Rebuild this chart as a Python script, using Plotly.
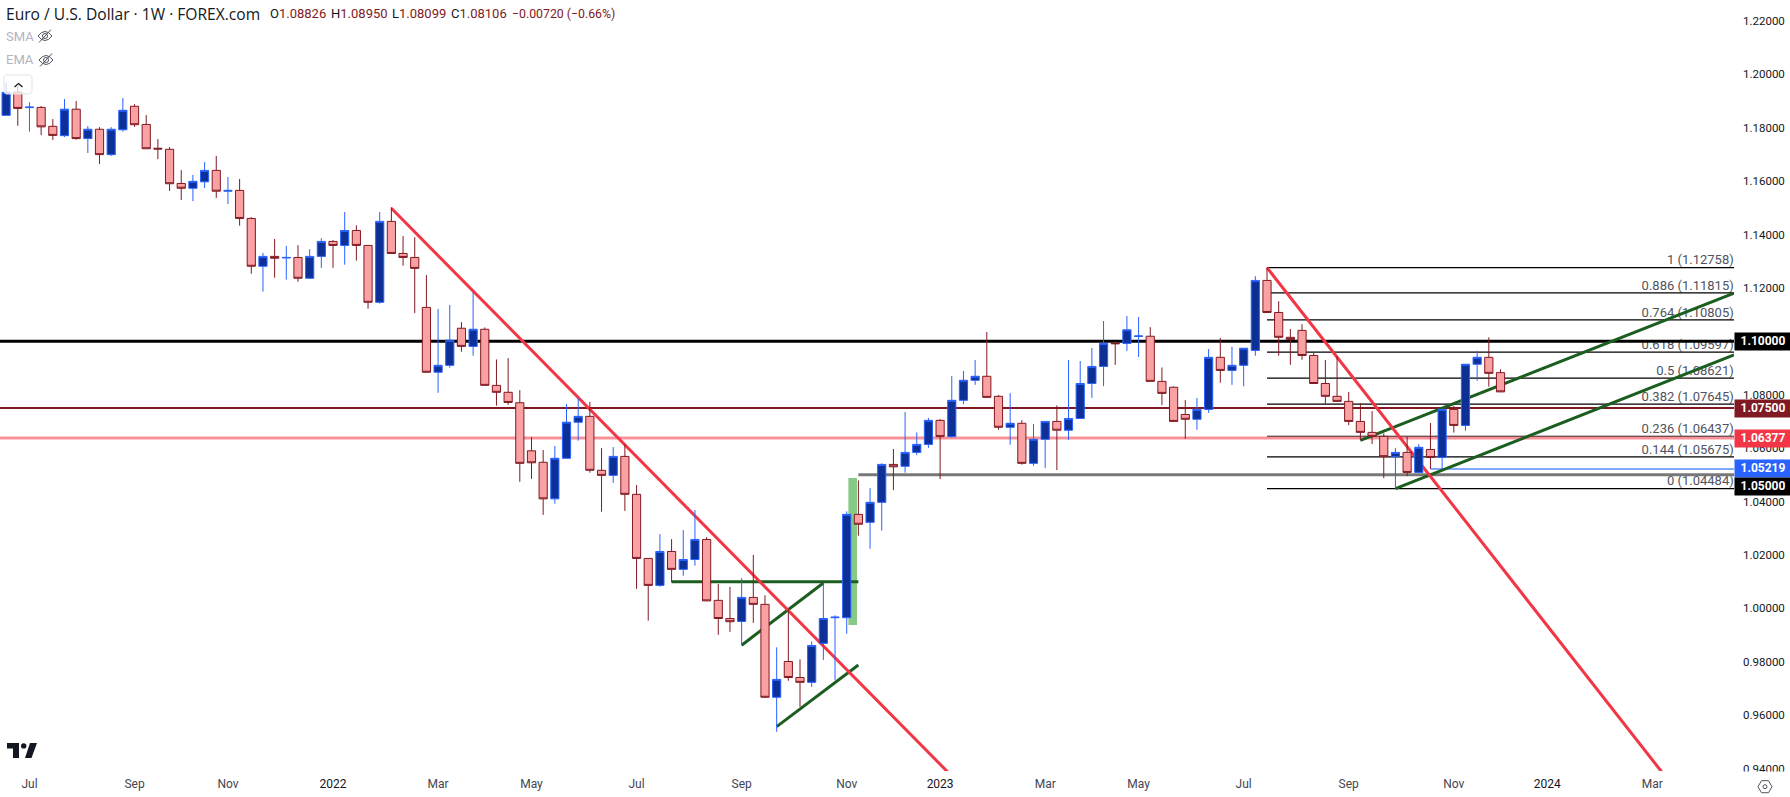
import pandas as pd
import plotly.graph_objects as go

# ---------- data ----------
first_week = "2021-06-21"
axis_start = "2021-06-17 08:00"
axis_end = "2024-04-22"
price_range = [0.9391, 1.2278]

opens = [1.1846,1.1933,1.1875,1.1876,1.1805,1.1770,1.1869,1.1759,1.1794,1.1699,
1.1792,1.1880,1.1812,1.1723,1.1719,1.1591,1.1573,1.1597,1.1640,1.1562,
1.1565,1.1460,1.1281,1.1318,1.1312,1.1314,1.1236,1.1318,1.1374,1.1359,
1.1415,1.1359,1.1146,1.1449,1.1329,1.1314,1.1127,1.0884,1.0910,1.1049,
1.0981,1.1045,1.0835,1.0809,1.0770,1.0590,1.0547,1.0410,1.0562,1.0697,
1.0719,1.0517,1.0498,1.0569,1.0427,1.0187,1.0086,1.0213,1.0146,1.0183,
1.0258,1.0030,0.9962,0.9951,1.0041,1.0015,0.9667,0.9801,0.9741,0.9723,
0.9869,0.9965,0.9965,1.0352,1.0322,1.0397,1.0539,1.0532,1.0584,1.0614,
1.0704,1.0643,1.0779,1.0854,1.0869,1.0794,1.0678,1.0693,1.0543,1.0633,
1.0700,1.0667,1.0711,1.0842,1.0906,1.0993,1.0992,1.1018,1.1019,1.0850,
1.0828,1.0726,1.0708,1.0745,1.0940,1.0891,1.0910,1.0966,1.1228,1.1108,
1.1015,1.1041,1.0947,1.0842,1.0794,1.0775,1.0700,1.0659,1.0644,1.0568,
1.0584,1.0509,1.0595,1.0565,1.0745,1.0685,1.0914,1.0940,1.08826]
closes = [1.1932,1.1872,1.1877,1.1803,1.1771,1.1869,1.1759,1.1794,1.1699,1.1794,
1.1865,1.1811,1.1721,1.1720,1.1590,1.1573,1.1599,1.1640,1.1562,1.1565,
1.1460,1.1281,1.1318,1.1311,1.1314,1.1236,1.1318,1.1374,1.1359,1.1415,
1.1359,1.1146,1.1449,1.1329,1.1314,1.1273,1.0884,1.0910,1.1004,1.0981,
1.1045,1.0835,1.0809,1.0771,1.0543,1.0545,1.0410,1.0562,1.0697,1.0719,
1.0517,1.0498,1.0569,1.0427,1.0187,1.0086,1.0213,1.0146,1.0183,1.0258,
1.0028,0.9962,0.9950,1.0041,1.0015,0.9667,0.9734,0.9741,0.9723,0.9861,
0.9962,0.9967,1.0352,1.0315,1.0397,1.0539,1.0530,1.0584,1.0614,1.0704,
1.0643,1.0779,1.0854,1.0869,1.0790,1.0678,1.0693,1.0543,1.0633,1.0700,
1.0667,1.0711,1.0842,1.0906,1.0992,1.0991,1.1043,1.1020,1.0850,1.0805,
1.0700,1.0708,1.0745,1.0940,1.0891,1.0910,1.0974,1.1228,1.1108,1.1015,
1.1007,1.0947,1.0842,1.0794,1.0775,1.0700,1.0659,1.0644,1.0568,1.0584,
1.0509,1.0603,1.0565,1.0745,1.0685,1.0914,1.0940,1.0880,1.08106]
highs = [1.1971,1.1956,1.1895,1.1881,1.1832,1.1907,1.1900,1.1806,1.1802,1.1802,
1.1911,1.1888,1.1847,1.1757,1.1727,1.1641,1.1623,1.1671,1.1694,1.1615,
1.1608,1.1465,1.1331,1.1383,1.1357,1.1360,1.1345,1.1386,1.1379,1.1484,
1.1434,1.1360,1.1484,1.1502,1.1394,1.1390,1.1248,1.1121,1.1136,1.1072,
1.1186,1.1052,1.0932,1.0937,1.0817,1.0641,1.0593,1.0608,1.0765,1.0788,
1.0773,1.0600,1.0604,1.0615,1.0462,1.0188,1.0278,1.0259,1.0293,1.0368,
1.0267,1.0091,1.0080,1.0113,1.0200,1.0049,0.9854,0.9996,0.9809,0.9876,
1.0094,0.9974,1.0363,1.0479,1.0450,1.0543,1.0597,1.0735,1.0659,1.0713,
1.0709,1.0870,1.0889,1.0930,1.1035,1.0799,1.0806,1.0705,1.0690,1.0701,
1.0760,1.0930,1.0926,1.0975,1.1076,1.1000,1.1095,1.1091,1.1053,1.0902,
1.0831,1.0780,1.0788,1.0971,1.1012,1.0979,1.0975,1.1244,1.12758,1.1150,
1.1046,1.1064,1.0956,1.0930,1.0944,1.0810,1.0768,1.0739,1.0655,1.0600,
1.0643,1.0615,1.0694,1.0746,1.0758,1.0915,1.0964,1.1015,1.0895]
lows = [1.1845,1.1807,1.1785,1.1772,1.1754,1.1765,1.1755,1.1705,1.1664,1.1694,
1.1785,1.1803,1.1720,1.1682,1.1563,1.1529,1.1525,1.1574,1.1537,1.1514,
1.1433,1.1253,1.1186,1.1238,1.1231,1.1223,1.1235,1.1275,1.1275,1.1287,
1.1302,1.1122,1.1141,1.1328,1.1283,1.1106,1.0883,1.0807,1.0901,1.0961,
1.0946,1.0834,1.0759,1.0762,1.0474,1.0485,1.0350,1.0392,1.0561,1.0628,
1.0508,1.0362,1.0470,1.0365,1.0073,0.9954,1.0081,1.0098,1.0122,1.0160,
1.0027,0.9901,0.9912,0.9862,0.9946,0.9666,0.9538,0.9729,0.9631,0.9706,
0.9807,0.9731,0.9905,1.0272,1.0223,1.0291,1.0443,1.0508,1.0574,1.0601,
1.0484,1.0639,1.0765,1.0837,1.0789,1.0669,1.0613,1.0538,1.0534,1.0526,
1.0518,1.0631,1.0710,1.0788,1.0832,1.0912,1.0964,1.0941,1.0849,1.0761,
1.0699,1.0635,1.0669,1.0732,1.0845,1.0837,1.0832,1.0946,1.1107,1.0946,
1.0912,1.0931,1.0841,1.0764,1.0774,1.0686,1.0629,1.0615,1.0488,1.04484,
1.0495,1.0508,1.0522,1.0522,1.0658,1.0665,1.0852,1.0830,1.08099]

date_ticks = ["2021-07-05","2021-09-06","2021-11-01","2022-01-03","2022-03-07","2022-05-02",
              "2022-07-04","2022-09-05","2022-11-07","2023-01-02","2023-03-06","2023-05-01",
              "2023-07-03","2023-09-04","2023-11-06","2024-01-01","2024-03-04"]
date_labels = ["Jul","Sep","Nov","2022","Mar","May","Jul","Sep","Nov","2023","Mar","May","Jul","Sep","Nov","2024","Mar"]
price_ticks = [0.94,0.96,0.98,1.00,1.02,1.04,1.06,1.08,1.10,1.12,1.14,1.16,1.18,1.20,1.22]

red_line_1_x = ["2022-02-07","2023-01-09"]; red_line_1_y = [1.1498,0.9372]
red_line_2_x = ["2023-07-17","2024-03-11"]; red_line_2_y = [1.12758,0.9377]
green_lines = [
    (["2022-07-25","2022-11-14"],[1.0100,1.0100]),
    (["2022-09-05","2022-10-24"],[0.9862,1.0095]),
    (["2022-09-26","2022-11-14"],[0.9557,0.9788]),
    (["2023-09-11",axis_end],[1.0629,1.1180]),
    (["2023-10-02",axis_end],[1.04484,1.0949]),
]
fib_ratio = ["1","0.886","0.764","0.618","0.5","0.382","0.236","0.144","0"]
fib_price = [1.12758,1.11815,1.10805,1.09597,1.08621,1.07645,1.06437,1.05675,1.04484]
fib_start = "2023-07-17"
fib_label_date = "2024-04-21 20:00"
levels = [  # price, start, colour, width
    (1.10000, axis_start, "#000000", 3),
    (1.07500, axis_start, "#801922", 2),
    (1.06377, axis_start, "#f7919a", 3),
    (1.05000, "2022-11-14", "#787878", 3),
    (1.05219, "2023-10-23", "#82a8ff", 2),
]
tags = [("1.10000","#000000",1.10000,0),("1.07500","#801922",1.07500,0),
        ("1.06377","#f23645",1.06377,0),("1.05219","#2962ff",1.05219,0),
        ("1.05000","#000000",1.05000,12)]

FONT = "Roboto, Lato, sans-serif"
W, H = 1790, 797
L, R, T, B = 0, 56, 0, 26
PW, PH = W-L-R, H-T-B
def px(x): return x/PW
def py(y): return 1-y/PH
def path(*pts, close=True):
    s = "M"+" L".join(f"{px(a):.5f},{py(b):.5f}" for a,b in pts)
    return s+(" Z" if close else "")

weeks = pd.date_range(first_week, periods=len(opens), freq="7D")
fig = go.Figure()

# fib labels sit under the drawings
fig.add_trace(go.Scatter(
    x=[fib_label_date]*len(fib_price), y=fib_price,
    mode="text", text=[f"{r} ({p:.5f})" for r,p in zip(fib_ratio,fib_price)],
    textposition="top left", textfont=dict(family=FONT,size=13,color="#50535e"),
    marker=dict(size=14),
    hoverinfo="skip", showlegend=False, cliponaxis=False))
for p in fib_price:
    fig.add_trace(go.Scatter(x=[fib_start,axis_end],y=[p,p],mode="lines",
        line=dict(color="#000000",width=1.3),hoverinfo="skip",showlegend=False))
for p,s,c,w in levels:
    fig.add_trace(go.Scatter(x=[s,axis_end],y=[p,p],mode="lines",
        line=dict(color=c,width=w),hoverinfo="skip",showlegend=False))
for xs,ys in green_lines:
    fig.add_trace(go.Scatter(x=xs,y=ys,mode="lines",line=dict(color="#1b5e20",width=3),
        hoverinfo="skip",showlegend=False))
for xs,ys in [(red_line_1_x,red_line_1_y),(red_line_2_x,red_line_2_y)]:
    fig.add_trace(go.Scatter(x=xs,y=ys,mode="lines",line=dict(color="#f23645",width=3),
        hoverinfo="skip",showlegend=False))

fig.add_trace(go.Candlestick(
    x=weeks, open=opens, high=highs, low=lows, close=closes, zorder=5,
    increasing=dict(line=dict(color="#2962ff",width=1),fillcolor="#0d3097"),
    decreasing=dict(line=dict(color="#801922",width=1),fillcolor="#faa1a4"),
    hoverinfo="skip", showlegend=False))

annotations = []
def txt(x,y,t,color,size=13.5,anchor="left",family=FONT):
    annotations.append(dict(xref="paper",yref="paper",x=px(x),y=py(y),text=t,showarrow=False,
        xanchor=anchor,yanchor="middle",align="left",
        font=dict(family=family,size=size,color=color)))
txt(4,13.5,"Euro / U.S. Dollar · 1W · FOREX.com","#131722",15.6,family="Open Sans, sans-serif")
for x,lab,val in [(268,"O","1.08826"),(329,"H","1.08950"),(390,"L","1.08099"),(449,"C","1.08106")]:
    txt(x,13.5,f'{lab}<span style="color:#801922">{val}</span>',"#131722",13)
txt(510,13.5,"−0.00720 (−0.66%)","#801922",12.3)
txt(4,36,"SMA","#b2b5be",13)
txt(4,60,"EMA","#b2b5be",13)

# price tags on the axis
for t,c,p,shift in tags:
    annotations.append(dict(xref="paper",yref="y",x=1,y=p,xanchor="left",yanchor="middle",
        yshift=-shift,text=f"<b>{t}</b>",showarrow=False,bgcolor=c,width=56,height=16.5,borderpad=0,
        align="center",font=dict(family=FONT,size=12,color="#ffffff")))

shapes = [
    dict(type="rect",layer="below",xref="x",yref="y",x0="2022-11-08",x1="2022-11-13 04:00",
         y0=0.9938,y1=1.0488,fillcolor="#87c987",line_width=0),
    # clip the lowest price label where the time scale starts
    dict(type="rect",xref="paper",yref="paper",x0=1,x1=px(1790),y0=py(771.5),y1=py(782),
         fillcolor="#ffffff",line_width=0),
    # chevron button
    dict(type="path",xref="paper",yref="paper",line=dict(color="#e0e3eb",width=1),fillcolor="rgba(255,255,255,0.75)",
         path=path((6,75),(30,75),(32,77),(32,92),(30,94),(6,94),(4,92),(4,77))),
    dict(type="path",xref="paper",yref="paper",line=dict(color="#131722",width=1.3),
         path=path((14.5,87),(18.5,83.5),(22.5,87),close=False)),
    # TradingView mark
    dict(type="path",xref="paper",yref="paper",fillcolor="#131722",line_width=0,
         path=path((7,743),(19,743),(19,758),(13,758),(13,748.5),(7,748.5))),
    dict(type="circle",xref="paper",yref="paper",fillcolor="#131722",line_width=0,
         x0=px(21),x1=px(26.4),y0=py(748.6),y1=py(743.2)),
    dict(type="path",xref="paper",yref="paper",fillcolor="#131722",line_width=0,
         path=path((30,743),(37,743),(31.5,758),(25,758))),
]
# eye-off icons
for cx,cy in [(45,36),(46,60)]:
    shapes.append(dict(type="path",xref="paper",yref="paper",line=dict(color="#50535e",width=1),
        path=f"M{px(cx-7):.5f},{py(cy):.5f} Q{px(cx):.5f},{py(cy-9):.5f} {px(cx+7):.5f},{py(cy):.5f} "
             f"Q{px(cx):.5f},{py(cy+9):.5f} {px(cx-7):.5f},{py(cy):.5f} Z"))
    shapes.append(dict(type="circle",xref="paper",yref="paper",line=dict(color="#50535e",width=1),
        x0=px(cx-2.5),x1=px(cx+2.5),y0=py(cy+2.5),y1=py(cy-2.5)))
    shapes.append(dict(type="line",xref="paper",yref="paper",line=dict(color="#50535e",width=1),
        x0=px(cx-6),y0=py(cy+6.5),x1=px(cx+6),y1=py(cy-6.5)))
# settings icon
sx,sy = 1765,786.7
shapes.append(dict(type="path",xref="paper",yref="paper",line=dict(color="#50535e",width=1),
    path=path((sx-3.5,sy-6),(sx+3.5,sy-6),(sx+7,sy),(sx+3.5,sy+6),(sx-3.5,sy+6),(sx-7,sy))))
shapes.append(dict(type="circle",xref="paper",yref="paper",line=dict(color="#50535e",width=1),
    x0=px(sx-2),x1=px(sx+2),y0=py(sy+2),y1=py(sy-2)))

ticktext = [f'<span style="color:#131722">{t}</span>' if t.isdigit() else t for t in date_labels]
fig.update_layout(
    width=W,height=H,margin=dict(l=L,r=R,t=T,b=B,pad=0),
    paper_bgcolor="#ffffff",plot_bgcolor="#ffffff",showlegend=False,
    boxgap=0,boxgroupgap=0.3,
    annotations=annotations,shapes=shapes,hovermode=False,dragmode=False,
    xaxis=dict(type="date",range=[axis_start,axis_end],tickmode="array",tickvals=date_ticks,ticktext=ticktext,
        showgrid=False,zeroline=False,showline=False,ticks="",rangeslider=dict(visible=False),
        tickangle=0,ticklabelstandoff=4,
        tickfont=dict(family=FONT,size=12,color="#434651")),
    yaxis=dict(side="right",range=price_range,tickmode="array",tickvals=price_ticks,
        ticktext=[f"{p:.5f}" for p in price_ticks],showgrid=False,zeroline=False,showline=False,ticks="",
        ticklabelstandoff=8,tickfont=dict(family=FONT,size=11.5,color="#131722")),
)
fig.write_html("out.html",config=dict(displayModeBar=False,staticPlot=True),
    post_script="document.body.style.margin='0';document.documentElement.style.overflow='hidden';")
